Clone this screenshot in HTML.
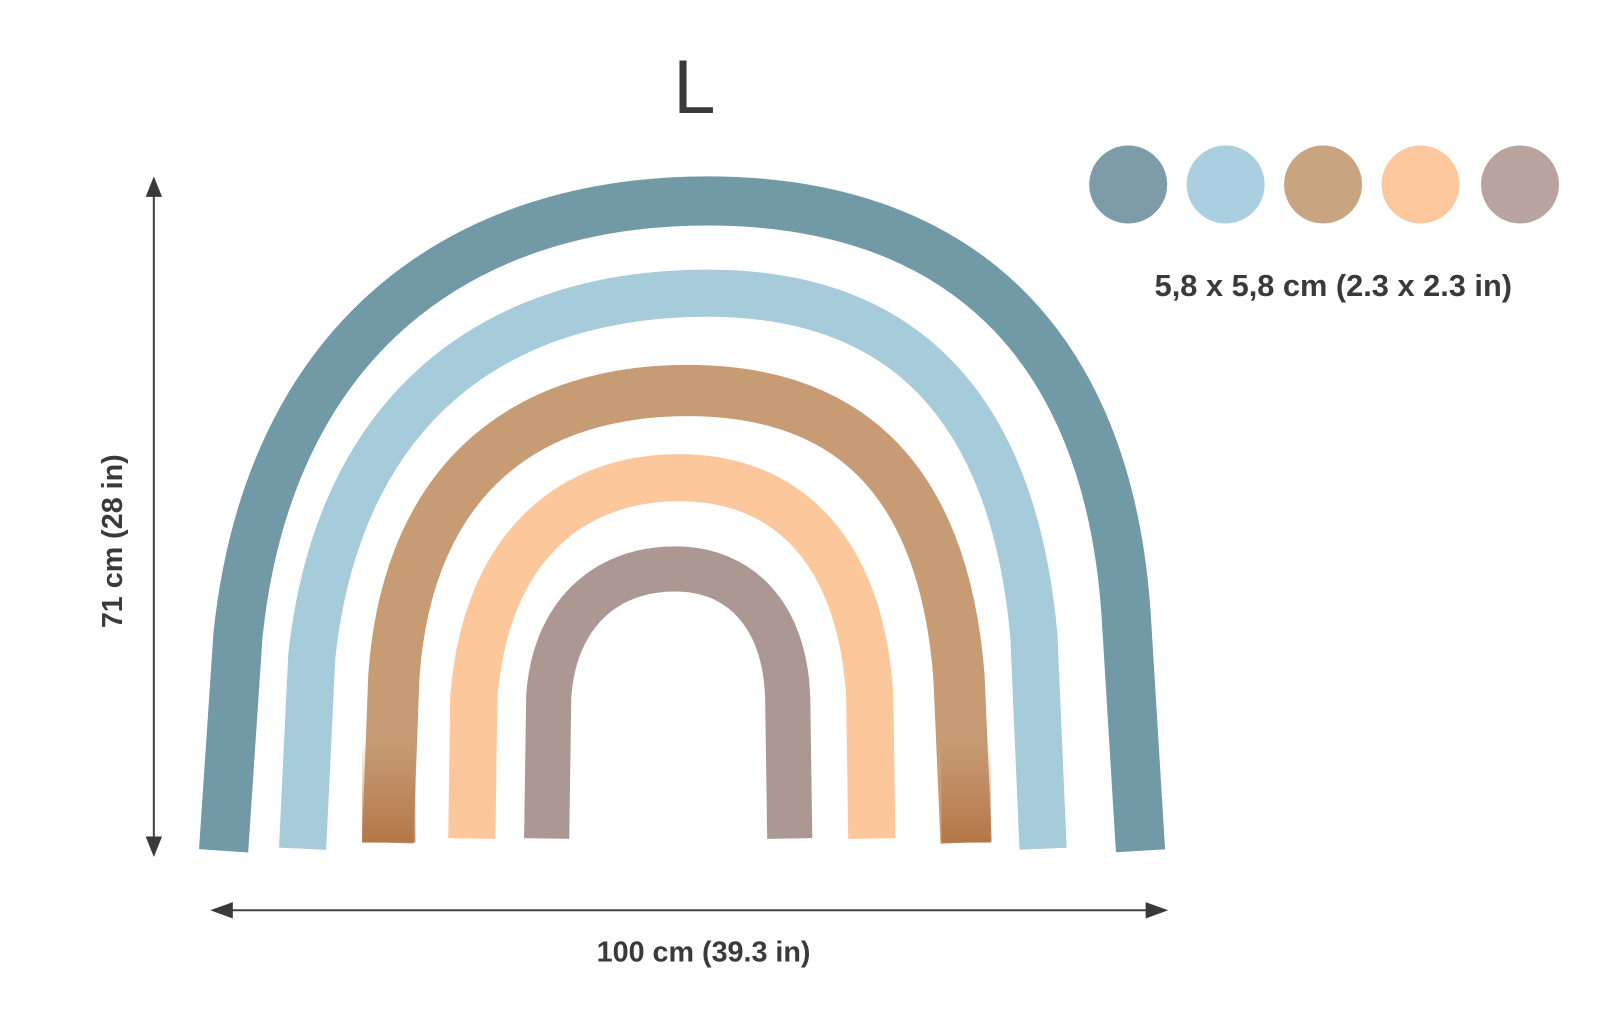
<!DOCTYPE html>
<html><head><meta charset="utf-8"><style>
html,body{margin:0;padding:0;background:#fff;}
svg{display:block;}
text{font-family:"Liberation Sans",sans-serif;fill:#3a3a3a;}
</style></head><body>
<svg width="1600" height="1022" viewBox="0 0 1560 997" preserveAspectRatio="none">
<defs>
<linearGradient id="br" x1="0" y1="0" x2="0" y2="1">
<stop offset="0" stop-color="#b57a4e" stop-opacity="0"/>
<stop offset="1" stop-color="#b0703f" stop-opacity="0.85"/>
</linearGradient>
</defs>
<g fill="none" stroke-linecap="butt">
<path d="M218 830 L232 620 C262 330 450 196 690 196 C930 196 1080 330 1098 600 L1112 830" stroke="#7199a6" stroke-width="48"/>
<path d="M295 828 L304 640 C330 400 480 286 690 286 C900 286 990 420 1008 620 L1017 828" stroke="#a6cbdb" stroke-width="46"/>
<path d="M378 822 L384 660 C398 460 520 381 670 381 C830 381 920 470 935 660 L942 822" stroke="#c79b74" stroke-width="50"/>
<path d="M460 818 L462 680 C474 530 560 466 662 466 C770 466 840 540 848 680 L850 818" stroke="#fdc79c" stroke-width="46"/>
<path d="M533 818 L535 680 C540 600 590 555 658 555 C722 555 765 600 768 680 L770 818" stroke="#ab9893" stroke-width="44"/>
</g>
<rect x="353" y="720" width="52" height="102" fill="url(#br)"/>
<rect x="918" y="720" width="48" height="102" fill="url(#br)"/>
<g stroke="#444" stroke-width="2">
<line x1="150" y1="185" x2="150" y2="822"/>
<line x1="220" y1="888" x2="1124" y2="888"/>
</g>
<g fill="#3a3a3a">
<polygon points="150,172 142,192 158,192"/>
<polygon points="150,836 142,816 158,816"/>
<polygon points="205,888 227,880 227,896"/>
<polygon points="1139,888 1117,880 1117,896"/>
</g>
<text x="677" y="110" font-size="74" text-anchor="middle">L</text>
<text transform="translate(119,528) rotate(-90)" font-size="28" font-weight="bold" text-anchor="middle">71 cm (28 in)</text>
<text x="686" y="938" font-size="28" font-weight="bold" text-anchor="middle">100 cm (39.3 in)</text>
<text x="1300" y="289" font-size="30" font-weight="bold" text-anchor="middle">5,8 x 5,8 cm (2.3 x 2.3 in)</text>
<circle cx="1100" cy="180" r="38" fill="#7d9ca8"/>
<circle cx="1195" cy="180" r="38" fill="#a9cfe0"/>
<circle cx="1290" cy="180" r="38" fill="#c9a481"/>
<circle cx="1385" cy="180" r="38" fill="#fdc89e"/>
<circle cx="1482" cy="180" r="38" fill="#b8a39e"/>
</svg>
</body></html>
